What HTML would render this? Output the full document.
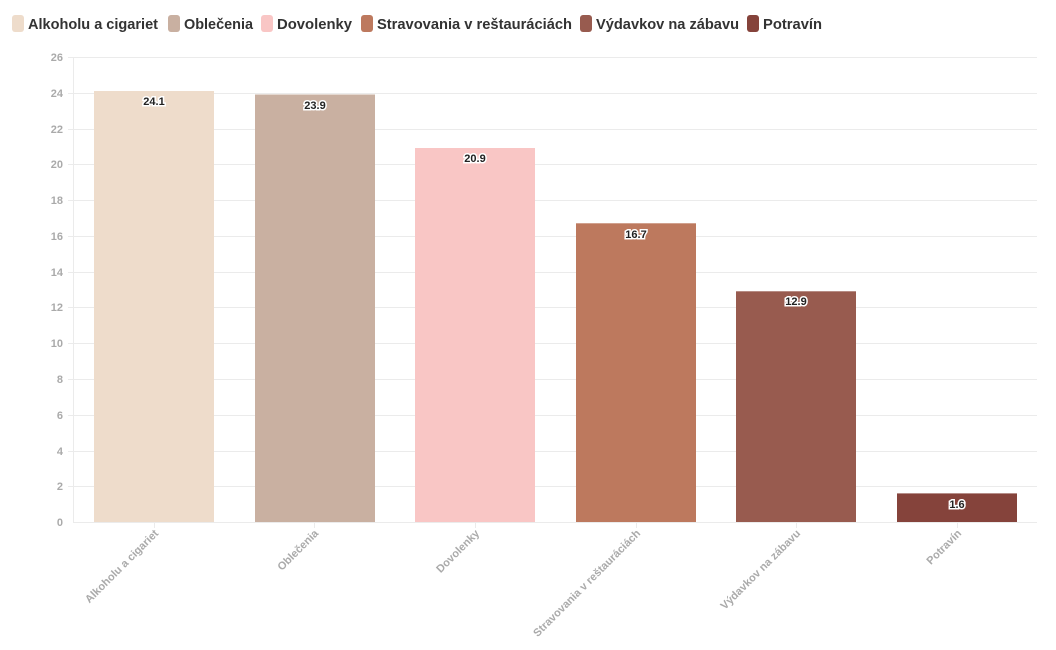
<!DOCTYPE html>
<html><head><meta charset="utf-8"><style>body{margin:0;background:#fff}svg{display:block}</style></head>
<body>
<svg width="1056" height="650" xmlns="http://www.w3.org/2000/svg" font-family="Liberation Sans, sans-serif">
<g font-size="15" font-weight="bold" fill="#333">
<rect x="12" y="15" width="12" height="17" rx="3" fill="#eedccb"/><text x="28" y="29" textLength="130" lengthAdjust="spacingAndGlyphs">Alkoholu a cigariet</text>
<rect x="168" y="15" width="12" height="17" rx="3" fill="#c9b0a1"/><text x="184" y="29" textLength="69" lengthAdjust="spacingAndGlyphs">Oblečenia</text>
<rect x="261" y="15" width="12" height="17" rx="3" fill="#f9c6c5"/><text x="277" y="29" textLength="75" lengthAdjust="spacingAndGlyphs">Dovolenky</text>
<rect x="361" y="15" width="12" height="17" rx="3" fill="#bd795e"/><text x="377" y="29" textLength="195" lengthAdjust="spacingAndGlyphs">Stravovania v reštauráciách</text>
<rect x="580" y="15" width="12" height="17" rx="3" fill="#985b4f"/><text x="596" y="29" textLength="143" lengthAdjust="spacingAndGlyphs">Výdavkov na zábavu</text>
<rect x="747" y="15" width="12" height="17" rx="3" fill="#85433b"/><text x="763" y="29" textLength="59" lengthAdjust="spacingAndGlyphs">Potravín</text>
</g>
<g stroke="#ebebeb" stroke-width="1">
<line x1="68" x2="1037" y1="57.5" y2="57.5"/><line x1="68" x2="1037" y1="93.5" y2="93.5"/><line x1="68" x2="1037" y1="129.5" y2="129.5"/><line x1="68" x2="1037" y1="164.5" y2="164.5"/><line x1="68" x2="1037" y1="200.5" y2="200.5"/><line x1="68" x2="1037" y1="236.5" y2="236.5"/><line x1="68" x2="1037" y1="272.5" y2="272.5"/><line x1="68" x2="1037" y1="307.5" y2="307.5"/><line x1="68" x2="1037" y1="343.5" y2="343.5"/><line x1="68" x2="1037" y1="379.5" y2="379.5"/><line x1="68" x2="1037" y1="415.5" y2="415.5"/><line x1="68" x2="1037" y1="451.5" y2="451.5"/><line x1="68" x2="1037" y1="486.5" y2="486.5"/>
<line x1="73.5" x2="73.5" y1="57" y2="522"/>
</g>
<g font-size="11" font-weight="bold" fill="#aaa" text-anchor="end">
<text x="63" y="61">26</text><text x="63" y="97">24</text><text x="63" y="133">22</text><text x="63" y="168">20</text><text x="63" y="204">18</text><text x="63" y="240">16</text><text x="63" y="276">14</text><text x="63" y="311">12</text><text x="63" y="347">10</text><text x="63" y="383">8</text><text x="63" y="419">6</text><text x="63" y="455">4</text><text x="63" y="490">2</text><text x="63" y="526">0</text>
</g>
<rect x="94" y="91" width="120" height="431" fill="#eedccb"/>
<rect x="255" y="94.5" width="120" height="427.5" fill="#c9b0a1"/>
<rect x="415" y="148" width="120" height="374" fill="#f9c6c5"/>
<rect x="576" y="223.3" width="120" height="298.7" fill="#bd795e"/>
<rect x="736" y="291.3" width="120" height="230.7" fill="#985b4f"/>
<rect x="897" y="493.4" width="120" height="28.6" fill="#85433b"/>
<line x1="73" x2="1037" y1="522.5" y2="522.5" stroke="#ebebeb"/>
<g stroke="#ebebeb"><line x1="154.5" x2="154.5" y1="522" y2="528"/><line x1="314.5" x2="314.5" y1="522" y2="528"/><line x1="475.5" x2="475.5" y1="522" y2="528"/><line x1="636.5" x2="636.5" y1="522" y2="528"/><line x1="796.5" x2="796.5" y1="522" y2="528"/><line x1="957.5" x2="957.5" y1="522" y2="528"/></g>
<g font-size="11" font-weight="bold" text-anchor="middle" fill="#222" stroke="#fff" stroke-width="3" paint-order="stroke">
<text x="154" y="105">24.1</text><text x="315" y="109">23.9</text><text x="475" y="162">20.9</text><text x="636" y="238">16.7</text><text x="796" y="305">12.9</text><text x="957" y="508">1.6</text>
</g>
<g font-size="11" font-weight="bold" fill="#aaa" text-anchor="end">
<text transform="translate(159,534) rotate(-45)">Alkoholu a cigariet</text>
<text transform="translate(319,534) rotate(-45)">Oblečenia</text>
<text transform="translate(480,534) rotate(-45)">Dovolenky</text>
<text transform="translate(641,534) rotate(-45)">Stravovania v reštauráciách</text>
<text transform="translate(801,534) rotate(-45)">Výdavkov na zábavu</text>
<text transform="translate(962,534) rotate(-45)">Potravín</text>
</g>
</svg>
</body></html>
